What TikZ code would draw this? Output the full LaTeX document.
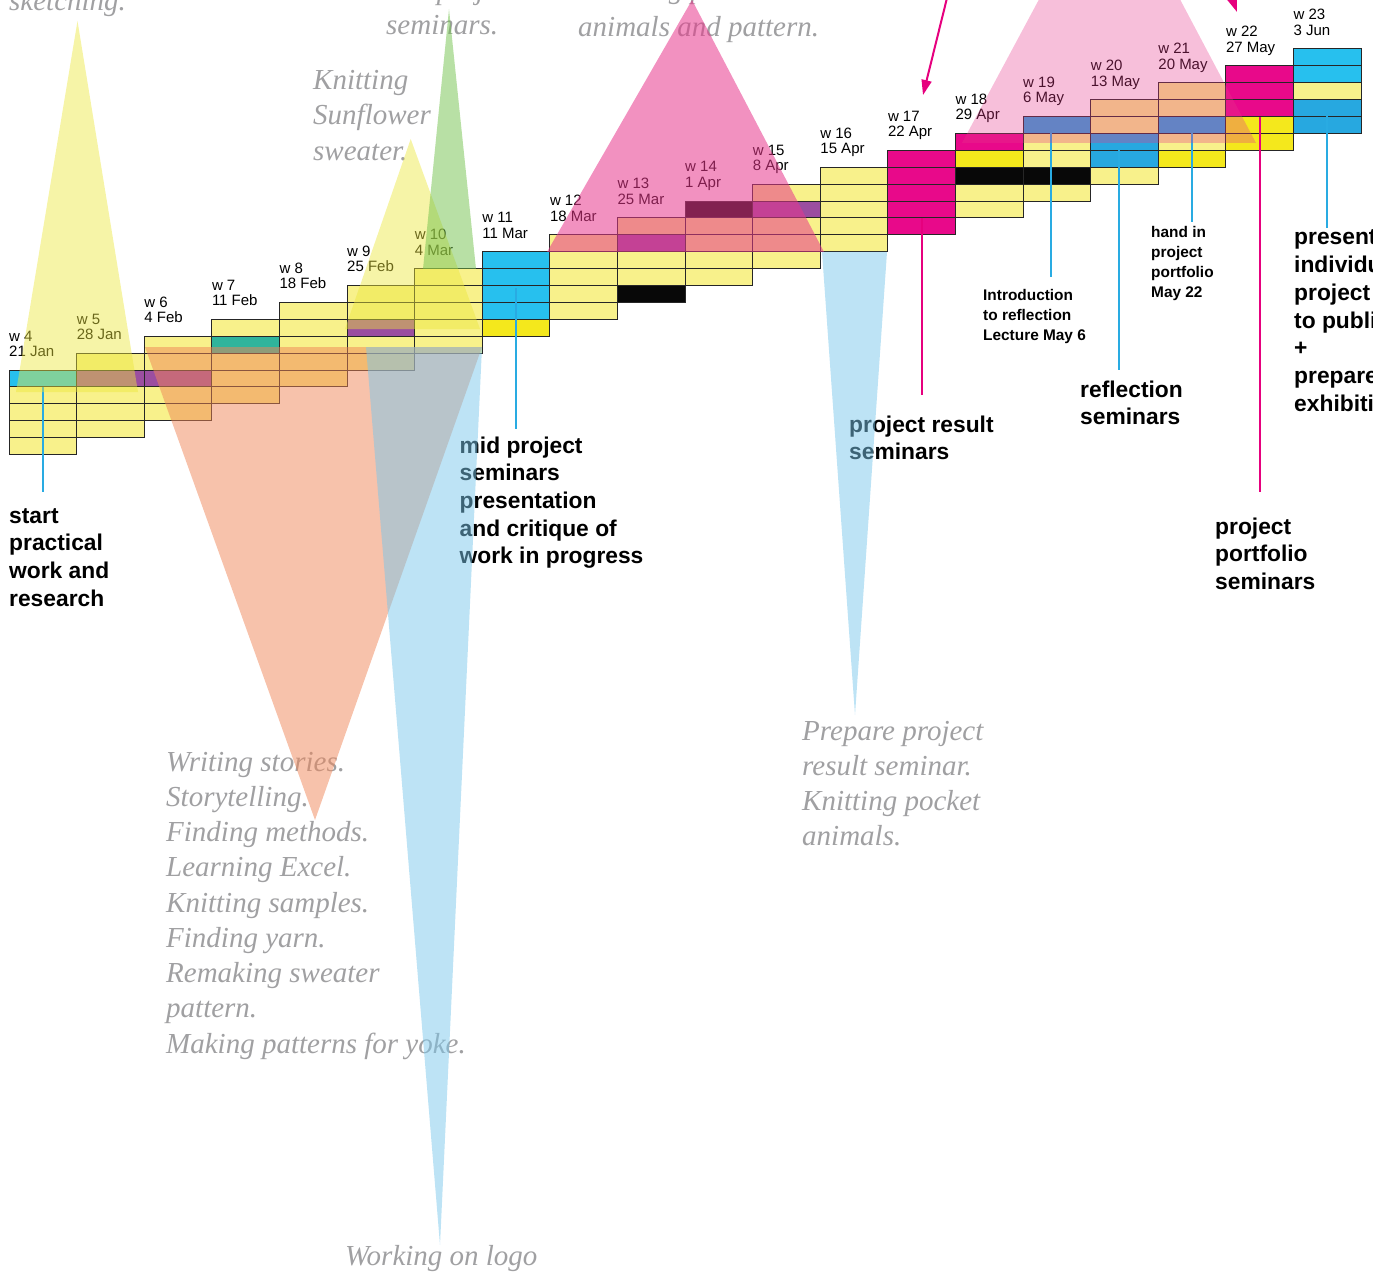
\documentclass[tikz,border=0pt]{standalone}
\usepackage{fontspec}
\setmainfont{Liberation Sans}
\newfontfamily\notefont{Liberation Serif}
\usepackage{xcolor}
\usepackage{tikz}
\usetikzlibrary{positioning,arrows.meta,calc}

\definecolor{cellyel}{RGB}{248,241,139}
\definecolor{brightyel}{RGB}{244,232,28}
\definecolor{cyanc}{RGB}{39,192,238}
\definecolor{bluec}{RGB}{39,168,224}
\definecolor{magc}{RGB}{232,9,138}
\definecolor{purc}{RGB}{155,78,160}
\definecolor{tealc}{RGB}{47,180,156}
\definecolor{blackc}{RGB}{8,8,8}
\definecolor{notegray}{RGB}{160,160,162}
\definecolor{lineblue}{RGB}{41,171,226}
\definecolor{linepink}{RGB}{230,0,126}
\definecolor{triyel}{RGB}{236,230,60}
\definecolor{trigreen}{RGB}{113,193,75}
\definecolor{triorange}{RGB}{239,133,87}
\definecolor{triblue}{RGB}{123,199,235}
\definecolor{tripink}{RGB}{231,55,140}

\begin{document}
\begin{tikzpicture}[x=1pt, y=-1pt,
  cell/.style={fill=cellyel, draw=black!85, line width=0.9pt},
  wk/.style={font=\fontsize{15}{16}\selectfont, inner sep=0pt, anchor=base west},
  lab/.style={font=\fontsize{22.8}{27}\selectfont\bfseries, inner sep=0pt, anchor=base west},
  labsmall/.style={font=\fontsize{15.4}{20}\selectfont\bfseries, inner sep=0pt, anchor=base west},
  note/.style={font=\notefont\itshape\fontsize{29}{35}\selectfont, text=notegray, inner sep=0pt, anchor=base west},
  bline/.style={draw=lineblue, line width=2pt},
  pline/.style={draw=linepink, line width=2pt},
  parrow/.style={pline, -{Triangle[length=15pt,width=10pt]}}
]
\path[use as bounding box] (0,0) rectangle (1373,1273);
\clip (0,0) rectangle (1373,1273);

\foreach \i in {0,...,19}
  \foreach \r in {0,...,4}
    \draw[cell] ({9+67.6*\i},{370+16.9*(\r-\i)}) rectangle ++(67.6,16.9);

\foreach \i/\r/\c in {
  0/0/cyanc, 1/1/purc, 2/2/purc, 3/1/tealc, 5/2/purc,
  7/0/cyanc, 7/1/cyanc, 7/2/cyanc, 7/3/cyanc, 7/4/brightyel,
  9/1/purc, 9/4/blackc, 10/0/blackc, 11/1/purc,
  13/0/magc, 13/1/magc, 13/2/magc, 13/3/magc, 13/4/magc,
  14/0/magc, 14/1/brightyel, 14/2/blackc,
  15/0/bluec, 15/3/blackc,
  16/2/bluec, 16/3/bluec,
  17/2/bluec, 17/4/brightyel,
  18/0/magc, 18/1/magc, 18/2/magc, 18/3/brightyel, 18/4/brightyel,
  19/0/cyanc, 19/1/cyanc, 19/3/bluec, 19/4/bluec}
  \draw[cell, fill=\c] ({9+67.6*\i},{370+16.9*(\r-\i)}) rectangle ++(67.6,16.9);

\foreach \i/\w/\d in {
  0/4/21 Jan, 1/5/28 Jan, 2/6/4 Feb, 3/7/11 Feb, 4/8/18 Feb,
  5/9/25 Feb, 6/10/4 Mar, 7/11/11 Mar, 8/12/18 Mar, 9/13/25 Mar,
  10/14/1 Apr, 11/15/8 Apr, 12/16/15 Apr, 13/17/22 Apr, 14/18/29 Apr,
  15/19/6 May, 16/20/13 May, 17/21/20 May, 18/22/27 May, 19/23/3 Jun}{
  \node[wk] (wk\w) at ({9+67.6*\i},{341-16.9*\i}) {w \w};
  \node[wk] (dt\w) at ({9+67.6*\i},{356.5-16.9*\i}) {\d};
}

\foreach \t [count=\k from 0] in {start,practical,work and,research}
  \node[lab] (start\k) at (9,{523+27.7*\k}) {\t};
\foreach \t [count=\k from 0] in {mid project,seminars,presentation,and critique of,work in progress}
  \node[lab] (mid\k) at (459.5,{453+27.7*\k}) {\t};
\foreach \t [count=\k from 0] in {project result,seminars}
  \node[lab] (result\k) at (849,{432+27.7*\k}) {\t};
\foreach \t [count=\k from 0] in {reflection,seminars}
  \node[lab] (refl\k) at (1080,{397+27.7*\k}) {\t};
\foreach \t [count=\k from 0] in {project,portfolio,seminars}
  \node[lab] (port\k) at (1215,{534+27.7*\k}) {\t};
\foreach \t [count=\k from 0] in {presentation,individual,project,to public,+,prepare,exhibition}
  \node[lab] (pres\k) at (1294,{245+27.7*\k}) {\t};
\foreach \t [count=\k from 0] in {Introduction,to reflection,Lecture May 6}
  \node[labsmall] (intro\k) at (983,{300.7+20*\k}) {\t};
\foreach \t [count=\k from 0] in {hand in,project,portfolio,May 22}
  \node[labsmall] (hand\k) at (1151,{238+20*\k}) {\t};

\node[note] (sketch) at (9,11) {sketching.};
\foreach \t [count=\k from 0] in {mid project,seminars.}
  \node[note] (midsem\k) at (386,{0+35*\k}) {\t};
\node[note] (pocket0) at (588,-1) {Knitting pocket};
\node[note] (pocket1) at (578,37) {animals and pattern.};
\foreach \t [count=\k from 0] in {Knitting,Sunflower,sweater.}
  \node[note] (sunfl\k) at (313,{89.5+35.3*\k}) {\t};
\foreach \t [count=\k from 0] in {Writing stories.,Storytelling.,Finding methods.,Learning Excel.,Knitting samples.,Finding yarn.,Remaking sweater,pattern.,Making patterns for yoke.}
  \node[note] (story\k) at (166,{771+35.25*\k}) {\t};
\foreach \t [count=\k from 0] in {Prepare project,result seminar.,Knitting pocket,animals.}
  \node[note] (prep\k) at (802,{740+35.3*\k}) {\t};
\node[note] (logo) at (345,1265) {Working on logo};

\coordinate (s4) at (43,387);       \coordinate (e4) at (43,492);
\coordinate (s11) at (516,288);     \coordinate (e11) at (516,429);
\coordinate (s17) at (921.5,218);   \coordinate (e17) at (921.5,395);
\coordinate (s19) at (1051,133);    \coordinate (e19) at (1051,277);
\coordinate (s20) at (1118.5,150);  \coordinate (e20) at (1118.5,370);
\coordinate (s21) at (1192,133);    \coordinate (e21) at (1192,222);
\coordinate (s22) at (1260,117);    \coordinate (e22) at (1260,492);
\coordinate (s23) at (1327,116);    \coordinate (e23) at (1327,228);
\coordinate (a17) at (947,-2);      \coordinate (t17) at (923,95);
\coordinate (a22) at (1222,-30);    \coordinate (t22) at (1237,12);

\foreach \n in {4,11,19,20,21,23}
  \draw[bline] (s\n) -- (e\n);
\draw[pline] (s17) -- (e17);
\draw[pline] (s22) -- (e22);
\draw[parrow] (a17) -- (t17);
\draw[parrow] (a22) -- (t22);

\fill[triyel, fill opacity=.45] (77.5,21) -- (16,392) -- (138,392) -- cycle;
\fill[triyel, fill opacity=.45] (410.7,139) -- (345,329) -- (480,329) -- cycle;
\fill[trigreen, fill opacity=.5] (449,9) -- (423,269) -- (476,269) -- cycle;
\fill[triorange, fill opacity=.5] (145,347) -- (482,347) -- (315,820) -- cycle;
\fill[triblue, fill opacity=.5] (366,347) -- (482,347) -- (440,1245) -- cycle;
\fill[triblue, fill opacity=.5] (822,252) -- (887,252) -- (855,715) -- cycle;
\fill[tripink, fill opacity=.55] (692,0) -- (547,252) -- (824,252) -- cycle;
\fill[tripink, fill opacity=.32] (1110,-133) -- (962,143) -- (1256,143) -- cycle;
\end{tikzpicture}
\end{document}
